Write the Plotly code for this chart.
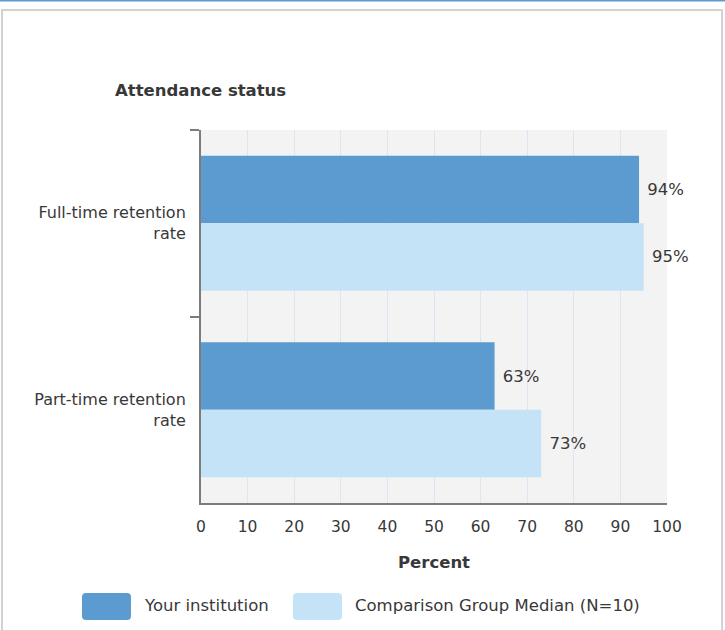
import plotly.graph_objects as go

categories = ["Full-time retention<br>rate", "Part-time retention<br>rate"]
your_institution = [94, 63]
comparison_median = [95, 73]
series_names = ["Your institution", "Comparison Group Median (N=10)"]
x_ticks = list(range(0, 101, 10))

dark = "#5b9bcf"
light = "#c5e3f6"
txt = "#383838"
font_family = "DejaVu Sans, Verdana, sans-serif"
fs = 16.5

W, H = 725, 630
L, R, T, B = 201, 58, 130, 127
pw, ph = W - L - R, H - T - B


def px(x):
    return (x - L) / pw


def py(y):
    return (H - B - y) / ph


def rounded_rect(x0, y0, x1, y1, r):
    rx, ry = r / pw, r / ph
    a0, a1, b0, b1 = px(x0), px(x1), py(y1), py(y0)
    return (f"M {a0 + rx},{b0} L {a1 - rx},{b0} Q {a1},{b0} {a1},{b0 + ry} "
            f"L {a1},{b1 - ry} Q {a1},{b1} {a1 - rx},{b1} L {a0 + rx},{b1} "
            f"Q {a0},{b1} {a0},{b1 - ry} L {a0},{b0 + ry} Q {a0},{b0} {a0 + rx},{b0} Z")


fig = go.Figure()
for name, vals, col in [(series_names[0], your_institution, dark),
                        (series_names[1], comparison_median, light)]:
    fig.add_trace(go.Bar(
        y=categories, x=vals, orientation="h", name=name,
        marker=dict(color=col, line=dict(width=0)),
        text=[f" {v}%" for v in vals], textposition="outside",
        textfont=dict(size=fs, color=txt, family=font_family), cliponaxis=False,
    ))

shapes = [
    dict(type="rect", xref="paper", yref="paper", x0=px(2), x1=px(722), y0=py(645), y1=py(10),
         line=dict(color="#d2d2d2", width=2), fillcolor="rgba(0,0,0,0)", layer="below"),
    dict(type="line", xref="paper", yref="paper", x0=px(0), x1=px(725), y0=py(0.5), y1=py(0.5),
         line=dict(color="#5b9bd5", width=2)),
    dict(type="path", xref="paper", yref="paper", path=rounded_rect(82, 593, 131, 620, 4),
         line=dict(width=0), fillcolor=dark),
    dict(type="path", xref="paper", yref="paper", path=rounded_rect(293, 593, 342, 620, 4),
         line=dict(width=0), fillcolor=light),
]

annotations = [
    dict(text=series_names[0], xref="paper", yref="paper", x=px(142), y=py(605),
         xanchor="left", yanchor="middle", showarrow=False,
         font=dict(size=fs, color=txt, family=font_family)),
    dict(text=series_names[1], xref="paper", yref="paper", x=px(353), y=py(605),
         xanchor="left", yanchor="middle", showarrow=False,
         font=dict(size=fs, color=txt, family=font_family)),
]

fig.update_layout(
    width=W, height=H,
    margin=dict(l=L, r=R, t=T, b=B, pad=0),
    paper_bgcolor="white", plot_bgcolor="#f3f3f3",
    barmode="group", bargap=0.277, bargroupgap=0,
    showlegend=False,
    title=dict(text="<b>Attendance status</b>", x=115 / W, xanchor="left", xref="container",
               y=1 - 90 / H, yanchor="middle", yref="container",
               font=dict(size=fs, color=txt, family=font_family)),
    font=dict(family=font_family, size=fs, color=txt),
    shapes=shapes, annotations=annotations,
    xaxis=dict(range=[0, 100], tickvals=x_ticks, ticktext=[str(t) for t in x_ticks],
               showgrid=True, gridcolor="#dde5f0", gridwidth=1,
               showline=True, linecolor="#7c7c7c", linewidth=2,
               ticks="", ticklabelstandoff=8, zeroline=False,
               tickfont=dict(size=15.5, color=txt, family=font_family),
               title=dict(text="<b>Percent</b>", standoff=22,
                          font=dict(size=fs, color=txt, family=font_family))),
    yaxis=dict(autorange="reversed", showline=True, linecolor="#7c7c7c", linewidth=2,
               ticks="outside", tickson="boundaries", ticklen=9, tickcolor="#7c7c7c", tickwidth=2,
               showgrid=False, ticklabelstandoff=10,
               tickfont=dict(size=16, color=txt, family=font_family)),
)

fig.write_html("out.html", config={"displayModeBar": False},
               post_script="document.body.style.margin='0';")
